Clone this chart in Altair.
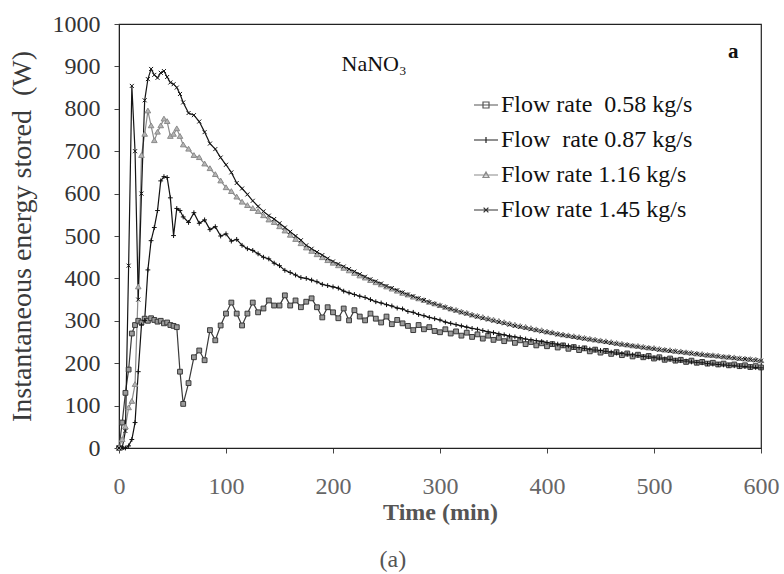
import altair as alt
import pandas as pd

# ---------------- data ----------------
TIME = [0, 3, 6, 9, 12, 15, 18, 21, 24, 27, 30, 33, 36, 39, 42, 45, 48, 51, 54, 57, 60,
        65, 70, 75, 80, 85, 90, 95, 100, 105, 110,
        115, 120, 125, 130, 135, 140, 145, 150, 155, 160,
        165, 170, 175, 180, 185, 190, 195, 200, 205, 210,
        215, 220, 225, 230, 235, 240, 245, 250, 255, 260,
        265, 270, 275, 280, 285, 290, 295, 300, 305, 310,
        315, 320, 325, 330, 335, 340, 345, 350, 355, 360,
        365, 370, 375, 380, 385, 390, 395, 400, 405, 410,
        415, 420, 425, 430, 435, 440, 445, 450, 455, 460,
        465, 470, 475, 480, 485, 490, 495, 500, 505, 510,
        515, 520, 525, 530, 535, 540, 545, 550, 555, 560,
        565, 570, 575, 580, 585, 590, 595, 600]

V058 = [0, 60, 130, 185, 270, 290, 300, 296, 305, 300, 306, 302, 298, 300, 294, 296, 290, 288, 285, 180, 104,
        153, 214, 230, 207, 278, 254, 289, 317, 343, 317,
        289, 317, 343, 320, 329, 348, 336, 336, 360, 336,
        348, 332, 345, 353, 332, 308, 332, 320, 306, 329,
        301, 325, 310, 301, 317, 305, 296, 310, 292, 302,
        294, 288, 278, 290, 280, 285, 276, 273, 280, 270,
        275, 265, 272, 262, 268, 258, 265, 255, 260, 252,
        258, 248, 254, 245, 250, 242, 247, 240, 245, 237,
        242, 234, 238, 231, 235, 228, 232, 225, 229, 222,
        226, 219, 223, 216, 220, 214, 217, 211, 214, 208,
        211, 206, 208, 203, 206, 201, 203, 199, 201, 197,
        199, 195, 197, 193, 195, 191, 193, 190]

V087 = [0, 0, 0, 5, 20, 60, 180, 290, 301, 420, 489, 520, 560, 630, 640, 638, 590, 501, 565, 560, 545,
        532, 555, 530, 538, 515, 522, 500, 505, 488, 492,
        478, 470, 466, 458, 450, 446, 436, 430, 419, 414,
        408, 402, 400, 396, 392, 386, 383, 380, 377, 370,
        366, 362, 358, 355, 350, 345, 342, 338, 335, 330,
        328, 322, 320, 315, 312, 308, 305, 302, 297, 294,
        291, 288, 285, 282, 280, 277, 274, 272, 269, 267,
        264, 262, 260, 257, 255, 253, 251, 249, 246, 245,
        242, 241, 238, 237, 235, 233, 231, 230, 228, 226,
        224, 223, 221, 220, 218, 216, 215, 213, 212, 210,
        209, 207, 206, 205, 203, 202, 201, 199, 198, 197,
        196, 195, 194, 193, 192, 191, 190, 189]

V116 = [0, 20, 50, 95, 110, 150, 380, 690, 740, 795, 760, 725, 745, 760, 776, 770, 735, 740, 753, 735, 715,
        705, 690, 685, 670, 659, 645, 630, 614, 605, 592,
        580, 572, 565, 558, 548, 538, 532, 522, 512, 502,
        492, 482, 472, 464, 456, 449, 442, 436, 430, 424,
        418, 412, 406, 401, 395, 390, 385, 380, 375, 370,
        365, 361, 356, 352, 348, 344, 340, 336, 332, 328,
        325, 321, 318, 314, 311, 308, 305, 302, 299, 296,
        293, 290, 287, 285, 282, 279, 277, 274, 272, 269,
        267, 265, 263, 261, 259, 257, 255, 253, 251, 249,
        247, 245, 243, 241, 240, 238, 236, 235, 233, 231,
        230, 228, 227, 225, 224, 222, 221, 219, 218, 217,
        215, 214, 213, 211, 210, 209, 208, 206]

V145 = [0, 0, 40, 430, 854, 700, 350, 600, 820, 870, 894, 880, 873, 885, 889, 875, 862, 858, 850, 835, 815,
        790, 785, 770, 745, 718, 705, 685, 668, 650, 625,
        612, 598, 583, 570, 558, 548, 540, 530, 520, 510,
        500, 490, 478, 470, 462, 455, 447, 440, 434, 428,
        422, 416, 410, 404, 398, 393, 388, 382, 377, 372,
        367, 362, 358, 353, 349, 344, 340, 336, 332, 328,
        324, 320, 317, 313, 310, 306, 303, 300, 297, 294,
        291, 288, 286, 283, 280, 278, 275, 273, 271, 268,
        266, 264, 262, 260, 258, 256, 254, 252, 250, 248,
        246, 244, 243, 241, 239, 237, 236, 234, 232, 231,
        229, 228, 226, 225, 223, 222, 220, 219, 218, 216,
        215, 214, 212, 211, 210, 209, 207, 206]

SERIES = ["Flow rate\u00a0 0.58 kg/s", "Flow\u00a0 rate 0.87 kg/s",
          "Flow rate 1.16 kg/s", "Flow rate 1.45 kg/s"]
VALUES = [V058, V087, V116, V145]

ANNOT_TEXT = ["NaNO\u2083", "a", "(a)"]
ANNOT_T = [208, 574, 256]
ANNOT_V = [906, 934, -264]

# ---------------- styles ----------------
FONT = "Liberation Serif"
LINE_COLORS = ["#3a3a3a", "#111111", "#8a8a8a", "#151515"]
FILL_COLORS = ["#9a9a9a", "#111111", "#b5b5b5", "#151515"]
STROKE_COLORS = ["#3a3a3a", "#111111", "#8a8a8a", "#151515"]
MARK_PATHS = [
    "M-0.6,-0.6L0.6,-0.6L0.6,0.6L-0.6,0.6Z",
    "M-0.6,0L0.6,0M0,-0.6L0,0.6",
    "M-0.7,0.5L0,-0.7L0.7,0.5Z",
    "M-0.5,-0.5L0.5,0.5M-0.5,0.5L0.5,-0.5",
]
LEGEND_PATHS = [
    "M-1,0L1,0M-0.25,-0.25L0.25,-0.25L0.25,0.25L-0.25,0.25Z",
    "M-1,0L1,0M0,-0.25L0,0.25",
    "M-1,0L1,0M-0.25,0.2L0,-0.25L0.25,0.2Z",
    "M-1,0L1,0M-0.2,-0.2L0.2,0.2M-0.2,0.2L0.2,-0.2",
]
LEGEND_COLORS = ["#555555", "#222222", "#8a8a8a", "#333333"]

rows = []
for name, vals in zip(SERIES, VALUES):
    for t, v in zip(TIME, vals):
        rows.append({"t": t, "v": v, "series": name})
df = pd.DataFrame(rows)

leg_df = pd.DataFrame({"label": SERIES, "t": [0] * 4, "v": [0] * 4})
annot_df = pd.DataFrame({"text": ANNOT_TEXT, "t": ANNOT_T, "v": ANNOT_V})

x_enc = alt.X(
    "t:Q",
    scale=alt.Scale(domain=[0, 600], nice=False),
    axis=alt.Axis(
        values=[0, 100, 200, 300, 400, 500, 600],
        title="Time (min)",
        titleFont=FONT, titleFontSize=24, titleFontWeight="bold", titleColor="#555555",
        titleX=321, titleY=52, titleAlign="center", titleBaseline="top",
        labelFont=FONT, labelFontSize=24, labelColor="#666666", labelPadding=21,
        labelFlush=False, labelOverlap=False,
        tickSize=5, tickColor="#444444", domainColor="#222222", grid=False,
    ),
)
y_enc = alt.Y(
    "v:Q",
    scale=alt.Scale(domain=[0, 1000], nice=False),
    axis=alt.Axis(
        values=[0, 100, 200, 300, 400, 500, 600, 700, 800, 900, 1000],
        format="d",
        title="Instantaneous energy stored\u00a0 (W)",
        titleFont=FONT, titleFontSize=28, titleFontWeight="normal", titleColor="#3a3a3a",
        titleX=-97, titleY=212, titleAngle=-90, titleAlign="center", titleBaseline="middle",
        labelFont=FONT, labelFontSize=24, labelColor="#333333", labelPadding=14,
        labelOverlap=False, labelFlush=False,
        tickSize=5, tickColor="#444444", domainColor="#222222", grid=False,
    ),
)

lines = alt.Chart(df).mark_line(strokeWidth=1.2).encode(
    x=x_enc, y=y_enc,
    color=alt.Color("series:N", scale=alt.Scale(domain=SERIES, range=LINE_COLORS), legend=None),
    order="t:Q",
)

points = alt.Chart(df).mark_point(filled=True, opacity=1, strokeWidth=1, size=64).encode(
    x="t:Q", y="v:Q",
    shape=alt.Shape("series:N", scale=alt.Scale(domain=SERIES, range=MARK_PATHS), legend=None),
    fill=alt.Fill("series:N", scale=alt.Scale(domain=SERIES, range=FILL_COLORS), legend=None),
    stroke=alt.Stroke("series:N", scale=alt.Scale(domain=SERIES, range=STROKE_COLORS), legend=None),
)

leg_props = dict(
    title=None, orient="none", legendX=354, legendY=68, padding=0,
    labelFont=FONT, labelFontSize=24, labelColor="#111111", labelLimit=400, labelOffset=2,
    symbolSize=576, symbolStrokeWidth=1.2, symbolOpacity=1, rowPadding=10,
    symbolFillColor="transparent",
)
legend_layer = alt.Chart(leg_df).mark_point(filled=False, opacity=0, size=576, strokeWidth=1.2).encode(
    x="t:Q", y="v:Q",
    shape=alt.Shape("label:N", scale=alt.Scale(domain=SERIES, range=LEGEND_PATHS),
                    legend=alt.Legend(**leg_props)),
    stroke=alt.Stroke("label:N", scale=alt.Scale(domain=SERIES, range=LEGEND_COLORS),
                      legend=alt.Legend(**leg_props)),
)

t_nano = alt.Chart(annot_df.iloc[[0]]).mark_text(
    font=FONT, fontSize=22, color="#111111", align="left", baseline="middle"
).encode(x="t:Q", y="v:Q", text="text:N")
t_a = alt.Chart(annot_df.iloc[[1]]).mark_text(
    font=FONT, fontSize=21, fontWeight="bold", color="#111111", align="center", baseline="middle"
).encode(x="t:Q", y="v:Q", text="text:N")
t_cap = alt.Chart(annot_df.iloc[[2]]).mark_text(
    font=FONT, fontSize=24, color="#555555", align="center", baseline="middle"
).encode(x="t:Q", y="v:Q", text="text:N")

chart = alt.layer(lines, points, legend_layer, t_nano, t_a, t_cap).resolve_scale(
    shape="independent", stroke="independent", fill="independent", color="independent"
).properties(
    width=642, height=424,
    padding={"left": 119, "top": 24, "right": 23, "bottom": 126},
    autosize=alt.AutoSizeParams(type="none"),
    background="white",
).configure_view(stroke="#222222", strokeWidth=1.2)

chart.save("out.html", embed_options={"renderer": "svg", "actions": False})
